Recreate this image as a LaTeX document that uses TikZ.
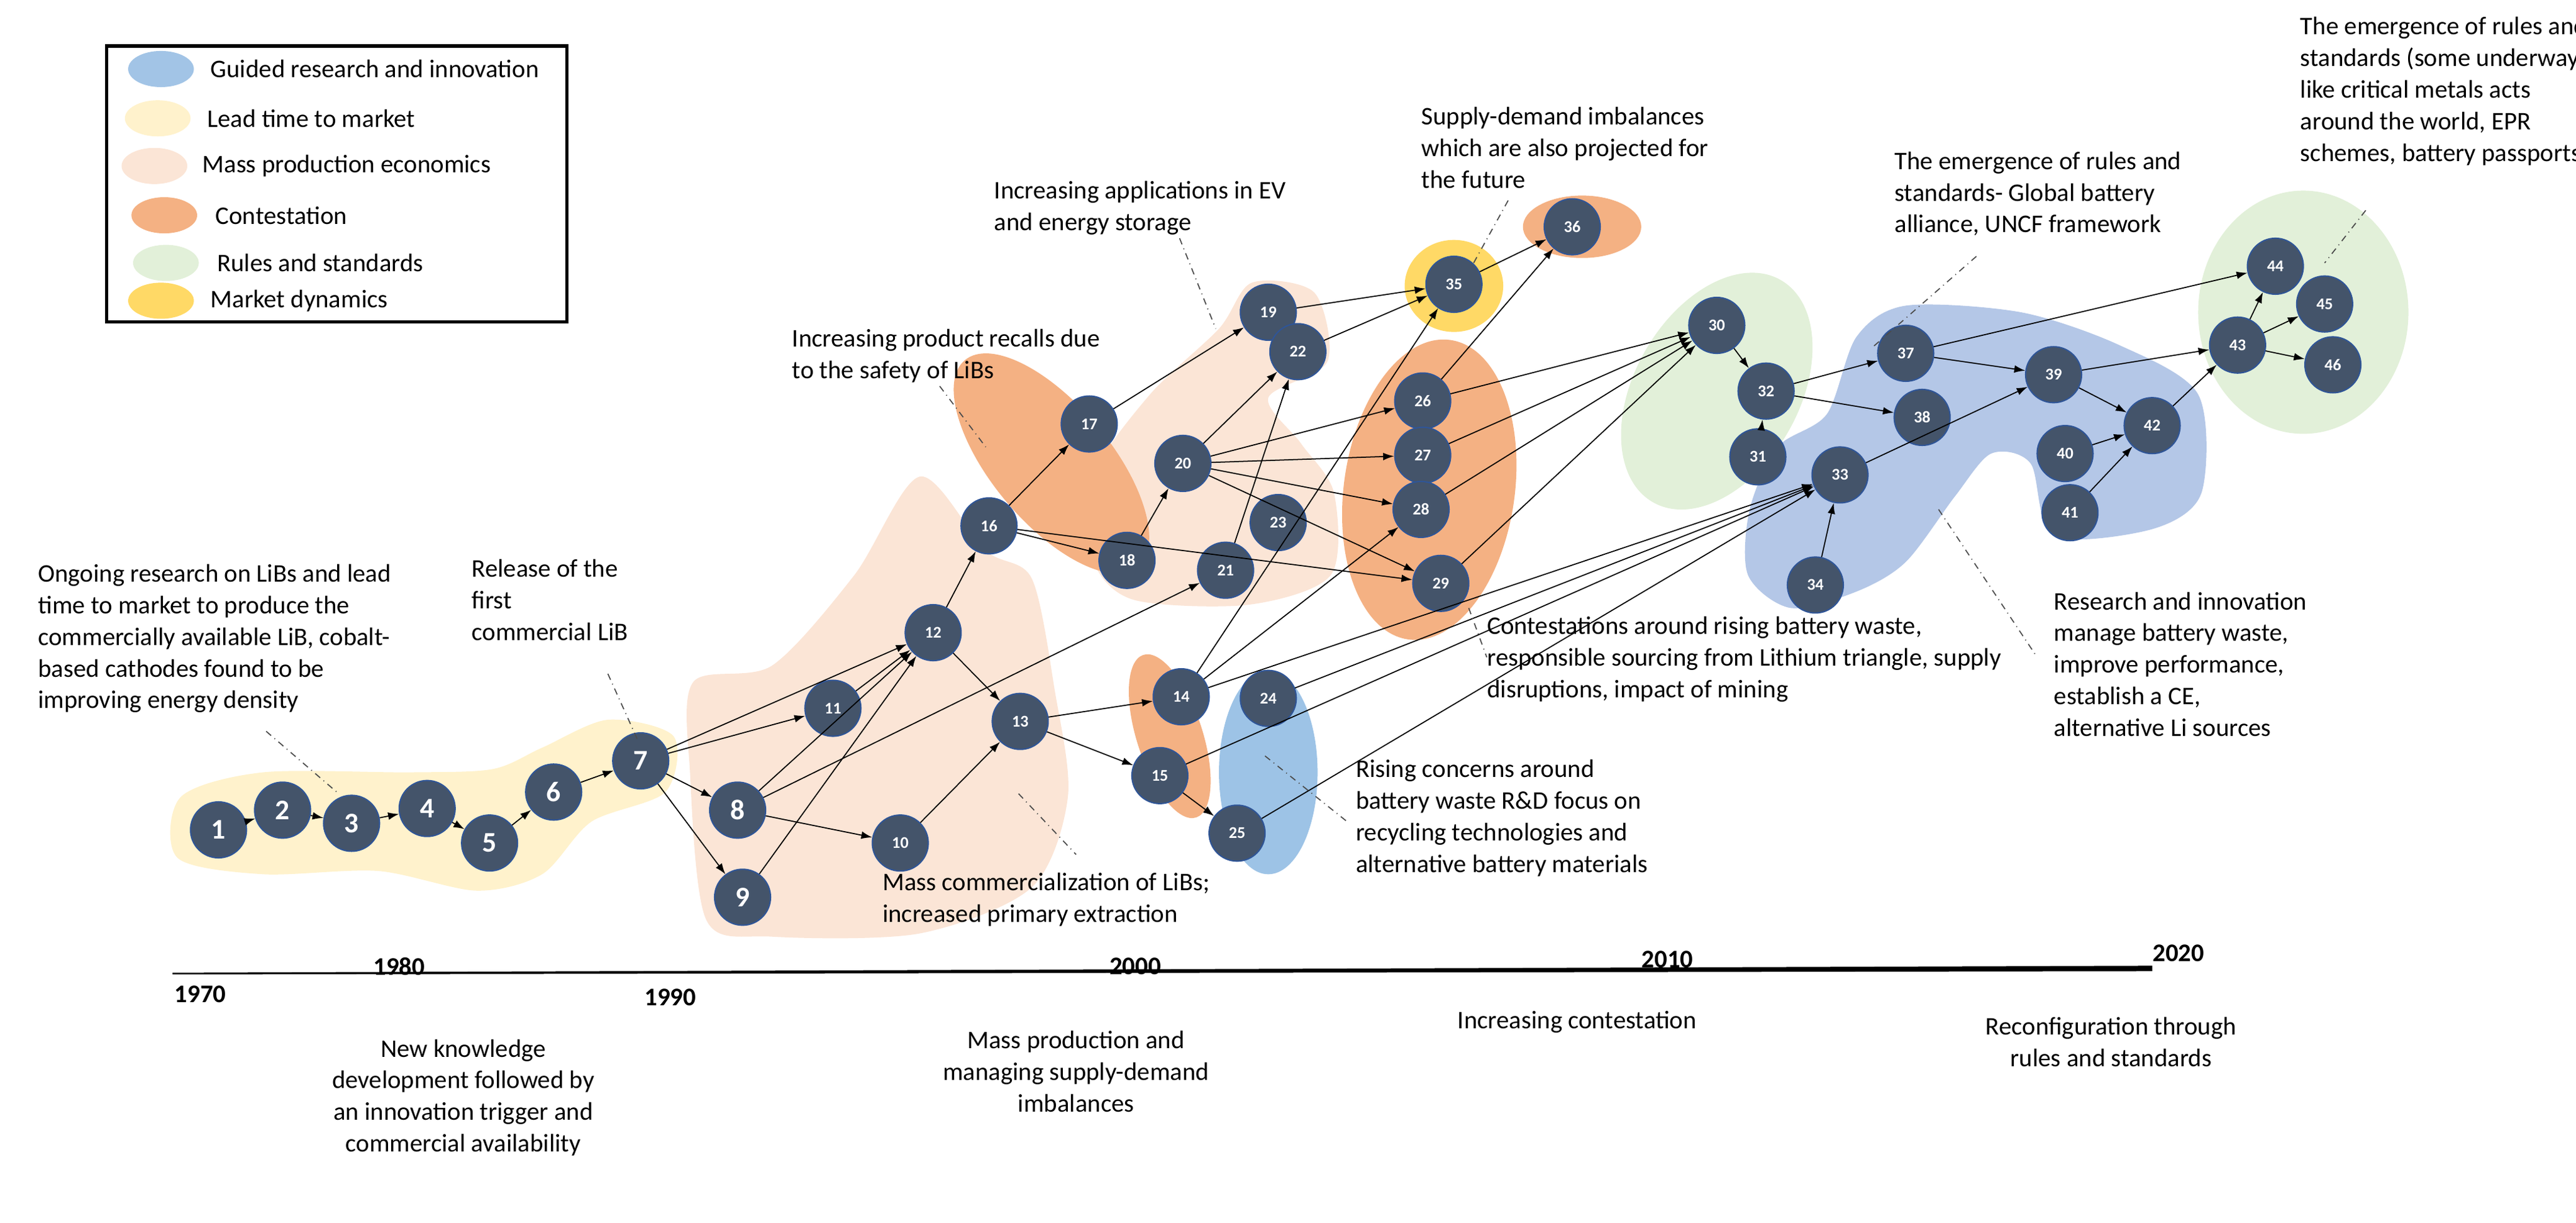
\documentclass[tikz,border=0pt]{standalone}
\usepackage{fontspec}
\setmainfont{Carlito}
\usetikzlibrary{arrows.meta}
\definecolor{nodeblue}{RGB}{68,84,106}
\definecolor{nodeline}{RGB}{47,85,151}
\definecolor{leadyellow}{RGB}{255,242,204}
\definecolor{masspeach}{RGB}{251,229,214}
\definecolor{contestorange}{RGB}{244,177,131}
\definecolor{guidedblue}{RGB}{157,195,230}
\definecolor{researchblue}{RGB}{180,199,231}
\definecolor{rulesgreen}{RGB}{226,240,217}
\definecolor{marketyellow}{RGB}{255,217,102}

\tikzset{
  event/.style={circle,fill=nodeblue,draw=nodeline,line width=0.6pt,text=white,
    minimum size=0.9cm,inner sep=0pt,font=\fontsize{7.5}{7.5}\selectfont\bfseries},
  bigevent/.style={event,font=\fontsize{13}{13}\selectfont\bfseries},
  link/.style={-{Latex[length=5pt,width=3.5pt]},line width=0.5pt},
  leader/.style={dash dot,line width=0.5pt,black!70},
  note/.style={align=left,anchor=north west,inner sep=0pt,font=\fontsize{11.6}{14.5}\selectfont},
  phase/.style={align=center,inner sep=0pt,font=\fontsize{11.6}{14.5}\selectfont},
  year/.style={inner sep=0pt,font=\fontsize{11.6}{14.5}\selectfont\bfseries}
}

\begin{document}
\begin{tikzpicture}[x=0.02642cm,y=-0.02642cm]
\useasboundingbox (0,0) rectangle (1568,744);

% background regions
\fill[leadyellow] plot[smooth cycle] coordinates {(110,485) (160,470) (250,470) (300,468) (330,455) (370,438) (410,448) (405,482) (360,500) (330,532) (290,542) (230,530) (160,532) (108,522)};
\fill[masspeach] plot[smooth cycle] coordinates {(420,470) (422,415) (470,405) (520,350) (560,290) (600,335) (628,352) (642,420) (650,485) (628,540) (560,568) (470,570) (430,560)};
\fill[masspeach] plot[smooth cycle] coordinates {(665,290) (700,240) (742,200) (762,172) (800,178) (808,220) (772,242) (792,270) (812,300) (810,350) (760,368) (690,365) (665,340)};
\fill[contestorange] (640,282) ellipse[x radius=36,y radius=82,rotate=40];
\fill[contestorange] (712,448) ellipse[x radius=20,y radius=52,rotate=18];
\fill[guidedblue] (772,470) ellipse[x radius=30,y radius=62];
\fill[contestorange] (870,298) ellipse[x radius=52,y radius=92,rotate=-8];
\fill[contestorange] (963,138) ellipse[x radius=36,y radius=19];
\fill[marketyellow] (885,174) ellipse[x radius=30,y radius=28];
\fill[rulesgreen] (1045,238) ellipse[x radius=50,y radius=78,rotate=-30];
\fill[rulesgreen] (1402,190) ellipse[x radius=64,y radius=74];
\fill[researchblue] plot[smooth cycle] coordinates {(1065,310) (1082,272) (1112,252) (1130,205) (1160,186) (1230,190) (1290,210) (1338,240) (1340,300) (1310,322) (1250,326) (1236,282) (1212,276) (1190,302) (1160,342) (1130,360) (1090,370) (1064,350)};

% legend
\draw[line width=1.5pt] (65,28) rectangle (345,196);
\fill[guidedblue!80!researchblue] (98,42) ellipse[x radius=20,y radius=11];
\fill[leadyellow] (96,72) ellipse[x radius=20,y radius=11];
\fill[masspeach] (94,101) ellipse[x radius=20,y radius=11];
\fill[contestorange] (100,131) ellipse[x radius=20,y radius=11];
\fill[rulesgreen] (101,160) ellipse[x radius=20,y radius=11];
\fill[marketyellow] (98,183) ellipse[x radius=20,y radius=11];
\node[note,anchor=west] (lg1) at (128,42) {Guided research and innovation};
\node[note,anchor=west] (lg2) at (126,72) {Lead time to market};
\node[note,anchor=west] (lg3) at (123,101) {Mass production economics};
\node[note,anchor=west] (lg4) at (131,131) {Contestation};
\node[note,anchor=west] (lg5) at (132,160) {Rules and standards};
\node[note,anchor=west] (lg6) at (128,183) {Market dynamics};

% events
\foreach \n/\x/\y in {1/133/505,2/172/493,3/214/501,4/260/492,5/298/513,6/337/482,7/390/463,8/449/493,9/452/546}
  \node[bigevent] (e\n) at (\x,\y) {\n};
\foreach \n/\x/\y in {10/548/513,11/507/431,12/568/385,13/621/439,14/719/424,15/706/472,16/602/320,
  17/663/258,18/686/341,19/772/190,20/720/282,21/746/347,22/790/214,23/778/318,24/772/425,25/753/507,
  26/866/244,27/866/277,28/865/310,29/877/355,30/1045/198,31/1070/278,32/1075/238,33/1120/289,
  34/1105/356,35/885/173,36/957/138,37/1160/215,38/1170/254,39/1250/228,40/1257/276,41/1260/312,
  42/1310/259,43/1362/210,44/1385/162,45/1415/185,46/1420/222}
  \node[event] (e\n) at (\x,\y) {\n};

% connections
\foreach \a/\b in {1/2,2/3,3/4,4/5,5/6,6/7,7/11,7/12,7/8,7/9,8/12,8/10,8/21,9/12,11/12,10/13,
  12/13,12/16,13/14,13/15,15/25,14/35,14/28,14/33,16/17,16/18,16/29,17/19,18/20,20/22,20/26,
  20/27,20/28,20/29,21/22,19/35,22/35,35/36,26/36,26/30,27/30,28/30,29/30,24/33,15/33,25/33,
  30/32,31/32,32/37,32/38,33/39,34/33,37/39,37/44,39/42,39/43,40/42,41/42,42/43,43/44,43/45,43/46}
  \draw[link] (e\a) -- (e\b);

% annotations
\node[note] (n1) at (23,343) {Ongoing research on LiBs and lead\\time to market to produce the\\commercially available LiB, cobalt-\\based cathodes found to be\\improving energy density};
\node[note] (n2) at (287,340) {Release of the\\first\\commercial LiB};
\node[note] (n3) at (482,200) {Increasing product recalls due\\to the safety of LiBs};
\node[note] (n4) at (605,110) {Increasing applications in EV\\and energy storage};
\node[note] (n5) at (865,65) {Supply-demand imbalances\\which are also projected for\\the future};
\node[note] (n6) at (1153,92) {The emergence of rules and\\standards- Global battery\\alliance, UNCF framework};
\node[note] (n7) at (1400,10) {The emergence of rules and\\standards (some underway)\\like critical metals acts\\around the world, EPR\\schemes, battery passports};
\node[note] (n8) at (905,375) {Contestations around rising battery waste,\\responsible sourcing from Lithium triangle, supply\\disruptions, impact of mining};
\node[note] (n9) at (825,462) {Rising concerns around\\battery waste R\&D focus on\\recycling technologies and\\alternative battery materials};
\node[note] (n10) at (537,531) {Mass commercialization of LiBs;\\increased primary extraction};
\node[note] (n11) at (1250,360) {Research and innovation\\manage battery waste,\\improve performance,\\establish a CE,\\alternative Li sources};

\draw[leader] (162,445) -- (205,482);
\draw[leader] (370,410) -- (388,450);
\draw[leader] (572,235) -- (600,272);
\draw[leader] (718,145) -- (740,200);
\draw[leader] (918,122) -- (897,160);
\draw[leader] (1203,156) -- (1139,212);
\draw[leader] (1440,128) -- (1415,160);
\draw[leader] (894,370) -- (905,400);
\draw[leader] (770,460) -- (820,500);
\draw[leader] (620,483) -- (655,520);
\draw[leader] (1180,310) -- (1240,400);

% timeline
\coordinate (t0) at (105,593);
\coordinate (t1) at (1310,591);
\fill (t0) -- (t1) -- ([yshift=2.5]t1) -- ([yshift=0.8]t0) -- cycle;
\node[year] (y1970) at (122,605) {1970};
\node[year] (y1980) at (243,588) {1980};
\node[year] (y1990) at (408,607) {1990};
\node[year] (y2000) at (691,588) {2000};
\node[year] (y2010) at (1015,584) {2010};
\node[year] (y2020) at (1326,580) {2020};

\node[phase] (p1) at (282,668) {New knowledge\\development followed by\\an innovation trigger and\\commercial availability};
\node[phase] (p2) at (655,652) {Mass production and\\managing supply-demand\\imbalances};
\node[phase] (p3) at (960,622) {Increasing contestation};
\node[phase] (p4) at (1285,634) {Reconfiguration through\\rules and standards};
\end{tikzpicture}
\end{document}
